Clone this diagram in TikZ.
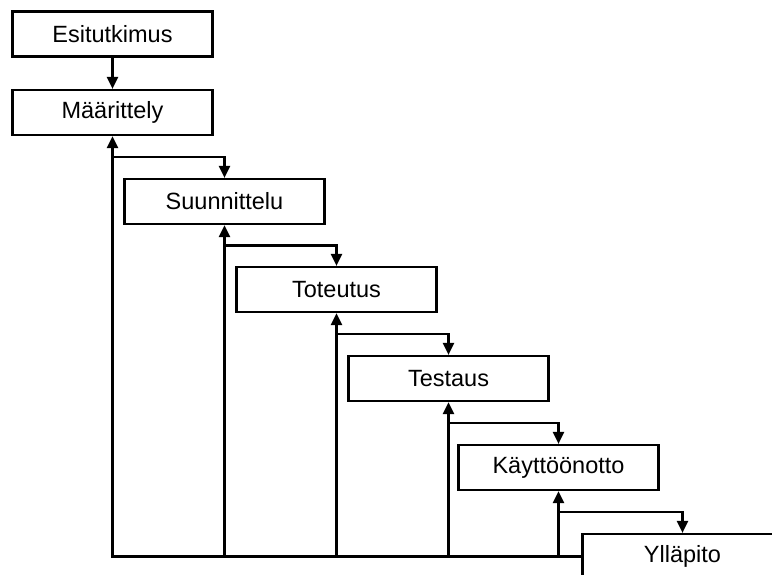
\documentclass[tikz,border=0pt]{standalone}
\usepackage{fontspec}
\setmainfont{Liberation Sans}
\usepackage{tikz}
\usetikzlibrary{arrows.meta,calc}

\begin{document}
\begin{tikzpicture}[x=1pt,y=-1pt,>={Triangle[width=11pt,length=12pt]},line width=2.2pt,
  phase/.style={draw,line width=2.2pt,minimum width=200pt,minimum height=45pt,inner sep=0pt,
    font=\fontsize{23.5}{28}\selectfont}]
  \useasboundingbox (0,0) rectangle (772,574);
  \clip (0,0) rectangle (772,574);
  \node[phase] (esi)  at (112.5,34)  {Esitutkimus};
  \node[phase] (maar) at (112.5,112.5) {Määrittely};
  \node[phase] (suun) at (224.5,201.5) {Suunnittelu};
  \node[phase] (tote) at (336.5,289.5) {Toteutus};
  \node[phase] (test) at (448.5,378.5) {Testaus};
  \node[phase] (kayt) at (558.5,467.5) {Käyttöönotto};
  \node[phase] (yll)  at (682.5,556.5) {Ylläpito};
  \draw[->] (esi) -- (maar);
  \foreach \a/\b in {maar/suun,suun/tote,tote/test,test/kayt,kayt/yll}
    \draw[->] ($(\a.south)!0.5!(\a.south |- \b.north)$) -| (\b.north);
  \draw[->] (yll.west) -| (maar.south);
  \foreach \n in {suun,tote,test,kayt}
    \draw[->] (yll.west -| \n.south) -- (\n.south);
\end{tikzpicture}
\end{document}
